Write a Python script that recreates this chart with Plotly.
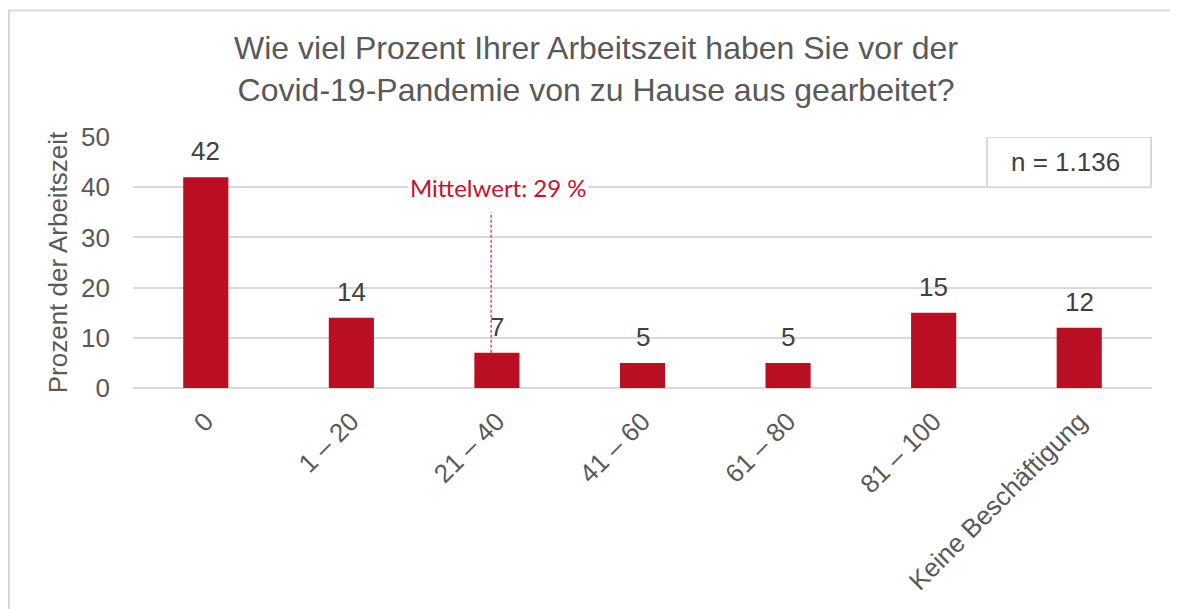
import plotly.graph_objects as go

categories = ["0", "1 – 20", "21 – 40", "41 – 60", "61 – 80", "81 – 100", "Keine Beschäftigung"]
values = [42, 14, 7, 5, 5, 15, 12]
mean_label = "Mittelwert: 29 %"
mean_pos = 1.96
mean_line_top = 35
n_label = "n = 1.136"

# page body has an 8px margin; compensate so the plot area lands at the reference pixels
OFF = 8
L, R, T, B = 133 - OFF, 26 + OFF, 137 - OFF, 221 + OFF
W, H = 1178, 609
pw = W - L - R
ph = H - T - B

def px2paper_x(px):
    return (px - OFF - L) / pw

def py2paper_y(py):
    return (H - B - (py - OFF)) / ph

FONT = "Liberation Sans, Arial, sans-serif"
xs = list(range(len(categories)))

fig = go.Figure()
fig.add_trace(go.Bar(
    x=xs, y=values,
    marker=dict(color="#BA0F22", line=dict(width=0)),
    width=0.31,
))

# value labels above bars
for xi, v in zip(xs, values):
    fig.add_annotation(x=xi, y=v, xref="x", yref="y", text=str(v), showarrow=False,
                       xanchor="center", yanchor="bottom", yshift=9,
                       font=dict(family=FONT, size=26, color="#404040"))

# mean dashed line
fig.add_shape(type="line", xref="x", yref="y", x0=mean_pos, x1=mean_pos,
              y0=values[2], y1=mean_line_top,
              line=dict(color="#C0283A", width=1.2, dash="3px,2px"))
fig.add_annotation(x=mean_pos + 0.05, y=40, xref="x", yref="y", text=mean_label,
                   showarrow=False, bgcolor="white",
                   font=dict(family="Lato, Carlito, sans-serif", size=24, color="#C8102E"),
                   xanchor="center", yanchor="middle")

# n box
fig.add_shape(type="rect", xref="paper", yref="y",
              x0=px2paper_x(987), x1=px2paper_x(1151), y0=40, y1=50,
              line=dict(color="#D9D9D9", width=2), fillcolor="white", layer="above")
fig.add_annotation(x=px2paper_x(1065), y=45, xref="paper", yref="y", text=n_label,
                   showarrow=False, xanchor="center", yanchor="middle",
                   font=dict(family=FONT, size=26, color="#404040"))

# outer frame
fig.add_shape(type="rect", xref="paper", yref="paper",
              x0=px2paper_x(9), x1=px2paper_x(1250), y0=py2paper_y(750), y1=py2paper_y(10.5),
              line=dict(color="#D9D9D9", width=2), layer="below")

fig.update_layout(
    width=W, height=H,
    margin=dict(l=L, r=R, t=T, b=B),
    plot_bgcolor="white", paper_bgcolor="white",
    showlegend=False,
    title=dict(text="Wie viel Prozent Ihrer Arbeitszeit haben Sie vor der<br>Covid-19-Pandemie von zu Hause aus gearbeitet?",
               x=(596 - OFF) / W, xanchor="center", y=1 - (59 - OFF) / H, yanchor="top",
               font=dict(family=FONT, size=32, color="#595959")),
    xaxis=dict(tickmode="array", tickvals=xs, ticktext=categories,
               range=[-0.5, len(categories) - 0.5], tickangle=-45,
               tickfont=dict(family=FONT, size=26, color="#595959"),
               showgrid=False, zeroline=False, showline=False, ticks="",
               ticklabelstandoff=12),
    yaxis=dict(range=[0, 50], tickvals=[0, 10, 20, 30, 40, 50],
               tickfont=dict(family=FONT, size=26, color="#595959"),
               showgrid=True, gridcolor="#D9D9D9", gridwidth=1.5,
               zeroline=True, zerolinecolor="#D9D9D9", zerolinewidth=1.5,
               showline=False, ticks="", ticklabelstandoff=22,
               title=dict(text="Prozent der Arbeitszeit", standoff=5,
                          font=dict(family=FONT, size=26, color="#595959"))),
)

fig.write_html("out.html")
